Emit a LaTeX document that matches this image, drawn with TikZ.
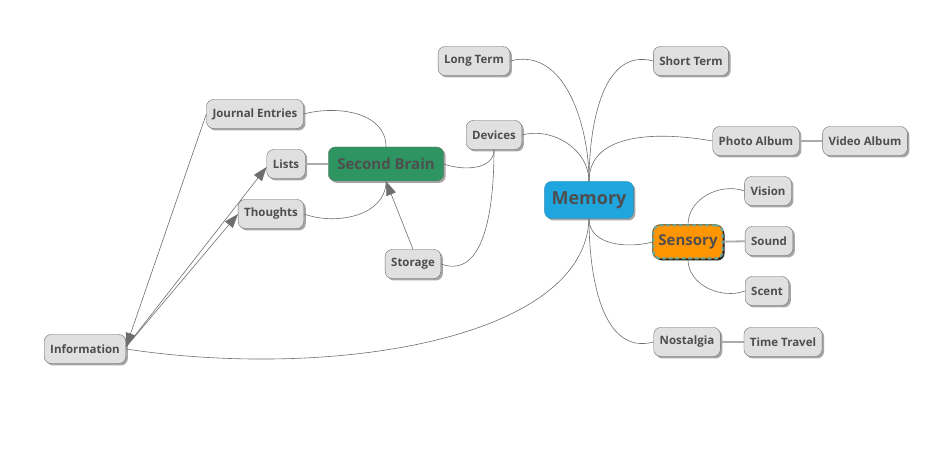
\documentclass[tikz,border=0pt]{standalone}
\usepackage{fontspec}
\setmainfont{Open Sans}
\usetikzlibrary{arrows.meta,shadows}

\definecolor{boxgray}{HTML}{E0E0E0}
\definecolor{edgegray}{HTML}{6E6E6E}
\definecolor{bargray}{HTML}{ABABAB}
\definecolor{textgray}{HTML}{4E4E4E}
\definecolor{memblue}{HTML}{20A6DE}
\definecolor{brainfill}{HTML}{2E9562}
\definecolor{sensefill}{HTML}{FF9500}
\definecolor{senseteal}{HTML}{6AA89C}
\definecolor{sensedark}{HTML}{8A6A3A}

\tikzset{
  topic/.style={rounded corners=7pt, draw=edgegray, fill=boxgray, text=textgray,
    font=\bfseries\fontsize{11.5}{13}\selectfont, minimum height=29pt, inner xsep=6pt,
    drop shadow={shadow xshift=2pt, shadow yshift=-2pt, fill=black, opacity=0.35}},
  link/.style={draw=edgegray, line width=0.6pt},
  bar/.style={draw=bargray, line width=1.8pt},
  feed/.style={link, -{Triangle[length=14pt,width=10pt]}},
}

\begin{document}
\begin{tikzpicture}[x=1pt,y=1pt]
  \useasboundingbox (0,0) rectangle (945,460);

  % central topic
  \node[topic, fill=memblue, draw=memblue!80!black, minimum height=37pt,
        font=\bfseries\fontsize{18}{20}\selectfont, inner xsep=7pt] (mem) at (589,260) {Memory};

  % main branches
  \node[topic] (lterm)  at (474,399) {Long Term};
  \node[topic] (sterm)  at (691,399) {Short Term};
  \node[topic] (dev)    at (494,325) {Devices};
  \node[topic] (photo)  at (756,319) {Photo Album};
  \node[topic] (video)  at (865,319) {Video Album};
  \node[topic, fill=sensefill, draw=senseteal, dash pattern=on 4pt off 2.5pt, line width=2pt,
        preaction={draw=sensedark, line width=2.6pt, solid},
        minimum height=33pt, font=\bfseries\fontsize{15}{17}\selectfont, inner xsep=5pt,
        drop shadow={shadow xshift=2pt, shadow yshift=-2pt, fill=black, opacity=0.7}] (sense) at (688,218) {Sensory};
  \node[topic] (vision) at (768,269) {Vision};
  \node[topic] (sound)  at (769,219) {Sound};
  \node[topic] (scent)  at (767,169) {Scent};
  \node[topic] (nost)   at (687,118) {Nostalgia};
  \node[topic] (travel) at (783,118) {Time Travel};

  % second brain cluster
  \node[topic, fill=brainfill, minimum height=34pt,
        font=\bfseries\fontsize{15}{17}\selectfont, inner xsep=9pt] (brain) at (386,296) {Second Brain};
  \node[topic] (journal)  at (255,346) {Journal Entries};
  \node[topic] (lists)    at (286,296) {Lists};
  \node[topic] (thoughts) at (271,246) {Thoughts};
  \node[topic] (store)    at (413,196) {Storage};
  \node[topic] (info)     at (85,111)  {Information};
  \coordinate (hub) at ([yshift=2pt]info.east);

  % branches from the centre
  \draw[link] (mem.north) to[out=90,in=15]  (lterm.east);
  \draw[link] (mem.north) to[out=90,in=165] (sterm.west);
  \draw[link] (mem.north) to[out=90,in=15]  (dev.east);
  \draw[link] (mem.north) to[out=90,in=170] (photo.west);
  \draw[link] (mem.south) to[out=-90,in=195] (sense.west);
  \draw[link] (mem.south) to[out=-90,in=195] (nost.west);
  \draw[link] (mem.south) .. controls (585,120) and (330,80) .. (info.east);

  \draw[bar] (photo) -- (video);
  \draw[bar] (sense) -- (sound);
  \draw[bar] (nost) -- (travel);
  \draw[link] (sense.north) to[out=90,in=160] (vision.west);
  \draw[link] (sense.south) to[out=-90,in=200] (scent.west);

  \draw[link] (dev.south) to[out=-90,in=-20] (brain.east);
  \draw[link] (dev.south) to[out=-90,in=-20] (store.east);

  \draw[link] (brain.north) to[out=90,in=15]  (journal.east);
  \draw[bar]  (brain) -- (lists);
  \draw[link] (brain.south) to[out=-90,in=-20] (thoughts.east);

  % arrows
  \draw[feed] (store.north) -- (brain.south);
  \draw[feed] (hub) -- ([yshift=-3pt]lists.west);
  \draw[feed] (hub) -- (thoughts.west);
  \draw[feed] (journal.west) -- (hub);
\end{tikzpicture}
\end{document}
